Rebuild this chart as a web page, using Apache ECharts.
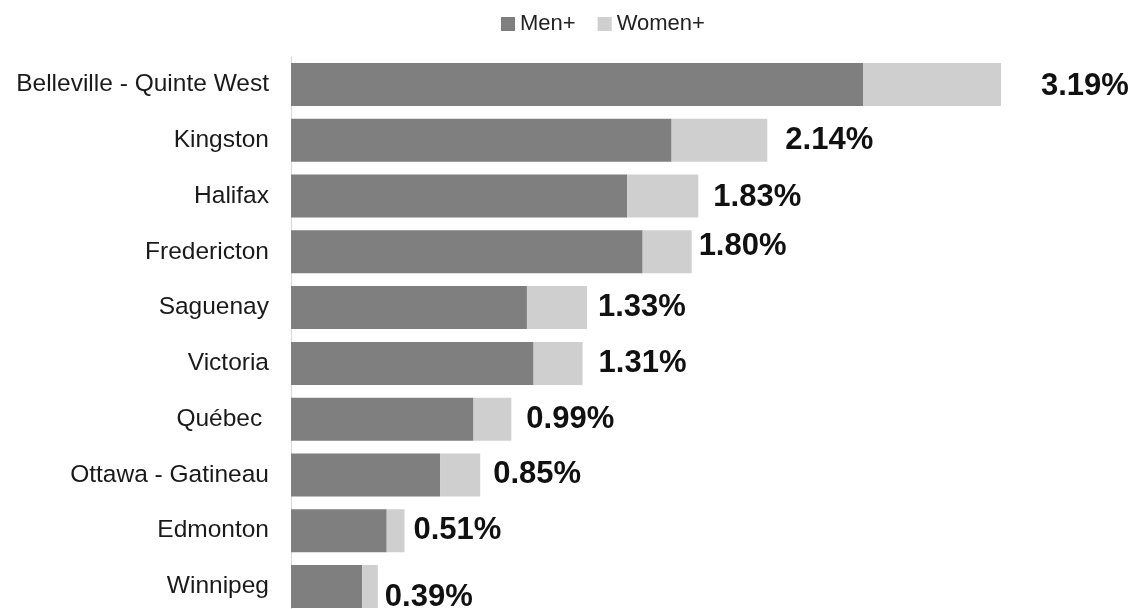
<!DOCTYPE html>
<html>
<head>
<meta charset="utf-8">
<script src="https://cdn.jsdelivr.net/npm/echarts@6/dist/echarts.min.js"></script>
<style>
  html, body { margin: 0; padding: 0; background: #ffffff; overflow: hidden; }
  #chart { width: 1138px; height: 620px; }
</style>
</head>
<body>
<div id="chart"></div>
<script>
const categories = ["Belleville - Quinte West", "Kingston", "Halifax", "Fredericton", "Saguenay", "Victoria", "Québec ", "Ottawa - Gatineau", "Edmonton", "Winnipeg"];
const menValues = [2.57, 1.71, 1.51, 1.58, 1.06, 1.09, 0.82, 0.67, 0.43, 0.32];
const womenValues = [0.62, 0.43, 0.32, 0.22, 0.27, 0.22, 0.17, 0.18, 0.08, 0.07];
const totalLabels = ["3.19%", "2.14%", "1.83%", "1.80%", "1.33%", "1.31%", "0.99%", "0.85%", "0.51%", "0.39%"];
const seriesNames = ["Men+", "Women+"];

// label nudges (style only): [dx, dy]
const labelNudge = [[40, 2], [18, 0], [15, 1], [7, -5], [11, 0], [16, 0], [15, 0], [13, 0], [9, 0], [7, 11]];

const FONT = "'Liberation Sans', Arial, Helvetica, sans-serif";
const chart = echarts.init(document.getElementById('chart'), null, { renderer: 'canvas' });

const womenData = womenValues.map(function (v, i) {
  return {
    value: v,
    label: {
      show: true,
      position: 'right',
      distance: 0,
      offset: labelNudge[i],
      formatter: totalLabels[i]
    }
  };
});

chart.setOption({
  animation: false,
  backgroundColor: '#ffffff',
  textStyle: { fontFamily: FONT },
  legend: {
    data: seriesNames,
    left: 496,
    top: 8,
    icon: 'rect',
    itemWidth: 14,
    itemHeight: 14,
    itemGap: 22,
    textStyle: { fontSize: 22, color: '#222222', fontFamily: FONT }
  },
  grid: { left: 291, right: 68, top: 56.6, height: 557.8, containLabel: false },
  xAxis: {
    type: 'value',
    min: 0,
    max: 3.5,
    show: false
  },
  yAxis: {
    type: 'category',
    data: categories,
    inverse: true,
    axisLine: { show: true, lineStyle: { color: '#d9d9d9', width: 1 } },
    axisTick: { show: false },
    axisLabel: { fontSize: 24.5, color: '#1a1a1a', margin: 22, fontFamily: FONT }
  },
  series: [
    {
      name: seriesNames[0],
      type: 'bar',
      stack: 'total',
      barWidth: 43,
      itemStyle: { color: '#7f7f7f' },
      data: menValues
    },
    {
      name: seriesNames[1],
      type: 'bar',
      stack: 'total',
      barWidth: 43,
      itemStyle: { color: '#d0cfd0' },
      label: {
        show: true,
        fontSize: 31,
        fontWeight: 'bold',
        color: '#111111',
        fontFamily: FONT
      },
      data: womenData
    }
  ]
});
</script>
</body>
</html>
